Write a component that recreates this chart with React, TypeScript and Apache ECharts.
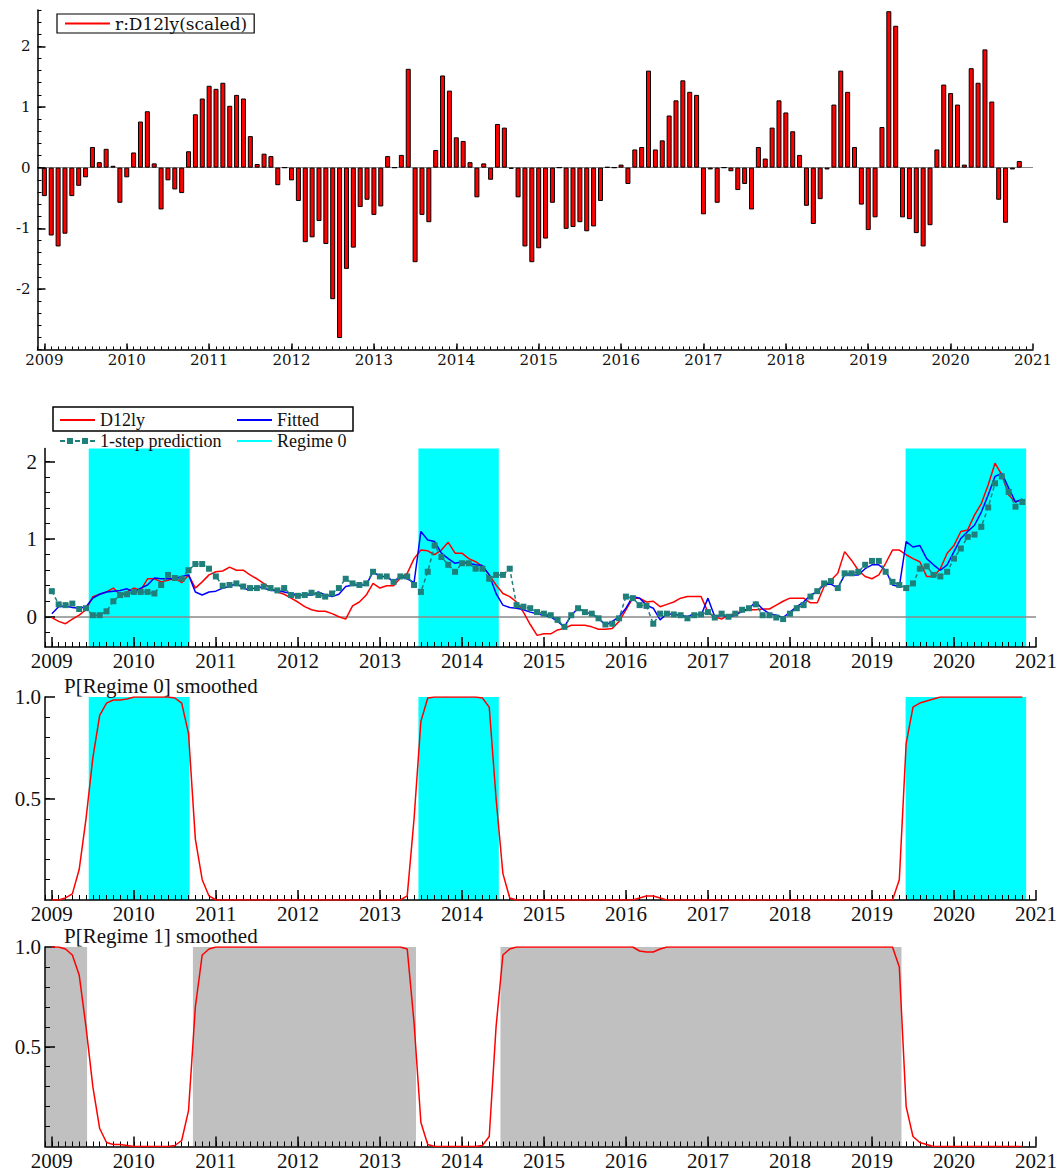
import { useEffect, useRef } from "react";
import * as echarts from "echarts";

// Monthly sample: 2009M1 .. 2020M11 (143 observations)
const FIRST_YEAR = 2009;
const YEARS = [2009, 2010, 2011, 2012, 2013, 2014, 2015, 2016, 2017, 2018, 2019, 2020, 2021];

// scaled residuals r:D12ly
const residuals = [
  -0.47, -1.12, -1.30, -1.09, -0.47, -0.30, -0.16, 0.34, 0.09, 0.31, 0.03, -0.58,
  -0.16, 0.25, 0.76, 0.93, 0.07, -0.69, -0.21, -0.36, -0.42, 0.27, 0.88, 1.14,
  1.35, 1.30, 1.40, 1.02, 1.20, 1.14, 0.52, 0.06, 0.23, 0.19, -0.29, 0.00,
  -0.21, -0.55, -1.23, -1.15, -0.88, -1.26, -2.17, -2.81, -1.67, -1.32, -0.65, -0.53,
  -0.78, -0.64, 0.19, 0.00, 0.21, 1.63, -1.56, -0.78, -0.90, 0.29, 1.52, 1.27,
  0.50, 0.44, 0.09, -0.49, 0.07, -0.20, 0.72, 0.66, -0.02, -0.49, -1.30, -1.56,
  -1.33, -1.17, -0.58, 0.00, -1.01, -0.98, -0.90, -1.05, -0.97, -0.55, 0.01, 0.00,
  0.05, -0.27, 0.30, 0.34, 1.60, 0.30, 0.45, 0.86, 1.11, 1.44, 1.25, 1.20,
  -0.77, -0.03, -0.58, 0.00, -0.06, -0.37, -0.27, -0.69, 0.34, 0.15, 0.66, 1.11,
  0.91, 0.60, 0.21, -0.63, -0.93, -0.52, -0.03, 1.04, 1.60, 1.25, 0.34, -0.61,
  -1.03, -0.82, 0.67, 2.58, 2.34, -0.82, -0.85, -1.08, -1.30, -0.95, 0.30, 1.37,
  1.23, 1.04, 0.05, 1.64, 1.40, 1.95, 1.09, -0.53, -0.91, -0.03, 0.11,
];

const d12ly = [
  -0.01, -0.06, -0.09, -0.03, 0.02, 0.09, 0.26, 0.29, 0.32, 0.37, 0.28, 0.32,
  0.37, 0.34, 0.49, 0.49, 0.45, 0.47, 0.50, 0.44, 0.54, 0.37, 0.45, 0.54,
  0.58, 0.59, 0.64, 0.60, 0.60, 0.54, 0.49, 0.43, 0.37, 0.32, 0.29, 0.24,
  0.19, 0.13, 0.09, 0.07, 0.07, 0.04, 0.00, -0.03, 0.14, 0.19, 0.28, 0.43,
  0.37, 0.40, 0.40, 0.50, 0.56, 0.75, 0.86, 0.85, 0.80, 0.86, 0.96, 0.82,
  0.82, 0.75, 0.71, 0.65, 0.54, 0.41, 0.30, 0.26, 0.19, 0.06, -0.10, -0.24,
  -0.22, -0.22, -0.17, -0.15, -0.11, -0.11, -0.11, -0.13, -0.16, -0.16, -0.15, -0.06,
  0.09, 0.24, 0.24, 0.19, 0.20, 0.13, 0.16, 0.19, 0.24, 0.26, 0.26, 0.26,
  0.06, 0.00, -0.03, 0.02, 0.04, 0.07, 0.09, 0.09, 0.10, 0.10, 0.15, 0.20,
  0.24, 0.24, 0.24, 0.18, 0.18, 0.39, 0.47, 0.56, 0.84, 0.73, 0.60, 0.52,
  0.49, 0.54, 0.69, 0.86, 0.86, 0.80, 0.75, 0.71, 0.52, 0.52, 0.62, 0.82,
  0.92, 1.10, 1.12, 1.31, 1.46, 1.70, 1.98, 1.83, 1.57, 1.48, 1.51,
];

const fitted = [
  0.04, 0.13, 0.14, 0.12, 0.11, 0.13, 0.24, 0.29, 0.32, 0.33, 0.34, 0.36,
  0.32, 0.37, 0.41, 0.50, 0.49, 0.49, 0.49, 0.52, 0.54, 0.32, 0.28, 0.32,
  0.33, 0.37, 0.39, 0.43, 0.37, 0.34, 0.39, 0.37, 0.34, 0.34, 0.32, 0.30,
  0.28, 0.28, 0.28, 0.32, 0.28, 0.26, 0.29, 0.39, 0.41, 0.41, 0.41, 0.58,
  0.52, 0.52, 0.45, 0.52, 0.49, 0.44, 1.10, 0.99, 0.97, 0.82, 0.75, 0.69,
  0.71, 0.69, 0.67, 0.66, 0.54, 0.30, 0.15, 0.12, 0.11, 0.09, 0.06, 0.04,
  0.02, 0.00, -0.06, -0.13, 0.02, 0.11, 0.06, 0.04, -0.02, -0.11, -0.06, 0.00,
  0.11, 0.26, 0.24, 0.15, 0.11, -0.04, 0.04, 0.03, 0.02, 0.00, 0.04, 0.02,
  0.24, 0.00, 0.02, 0.00, 0.02, 0.07, 0.11, 0.19, 0.10, 0.04, 0.02, -0.01,
  0.06, 0.13, 0.19, 0.28, 0.32, 0.42, 0.42, 0.37, 0.54, 0.54, 0.54, 0.62,
  0.67, 0.67, 0.60, 0.41, 0.39, 0.97, 0.90, 0.92, 0.75, 0.67, 0.60, 0.67,
  0.84, 1.01, 1.10, 1.18, 1.35, 1.57, 1.81, 1.85, 1.66, 1.48, 1.52,
];

const oneStepPrediction = [
  0.33, 0.16, 0.15, 0.17, 0.10, 0.11, 0.02, 0.02, 0.07, 0.20, 0.28, 0.29,
  0.32, 0.32, 0.32, 0.30, 0.41, 0.54, 0.50, 0.49, 0.60, 0.68, 0.68, 0.62,
  0.52, 0.40, 0.41, 0.43, 0.39, 0.37, 0.37, 0.39, 0.37, 0.34, 0.37, 0.28,
  0.27, 0.28, 0.31, 0.28, 0.26, 0.30, 0.37, 0.49, 0.43, 0.41, 0.43, 0.58,
  0.52, 0.52, 0.45, 0.52, 0.52, 0.41, 0.32, 0.58, 0.92, 0.77, 0.67, 0.58,
  0.69, 0.69, 0.62, 0.62, 0.49, 0.54, 0.54, 0.62, 0.15, 0.13, 0.11, 0.06,
  0.04, 0.02, -0.04, -0.13, 0.02, 0.11, 0.06, 0.04, -0.02, -0.10, -0.09, -0.02,
  0.26, 0.24, 0.15, 0.14, -0.09, 0.04, 0.04, 0.03, 0.02, -0.02, 0.02, 0.03,
  0.06, -0.01, 0.04, 0.00, 0.04, 0.09, 0.11, 0.16, 0.02, 0.02, -0.01, -0.03,
  0.04, 0.11, 0.15, 0.26, 0.33, 0.43, 0.46, 0.37, 0.56, 0.56, 0.58, 0.67,
  0.72, 0.72, 0.58, 0.45, 0.41, 0.37, 0.43, 0.62, 0.65, 0.54, 0.52, 0.58,
  0.75, 0.88, 1.03, 1.06, 1.16, 1.41, 1.72, 1.81, 1.61, 1.42, 1.48,
];

const pRegime0 = [
  0, 0, 0.01, 0.03, 0.15, 0.40, 0.70, 0.91, 0.97, 0.985, 0.985, 0.99,
  1, 1, 1, 1, 1, 1, 0.995, 0.97, 0.82, 0.30, 0.10, 0.02,
  0, 0, 0, 0, 0, 0, 0, 0, 0, 0, 0, 0,
  0, 0, 0, 0, 0, 0, 0, 0, 0, 0, 0, 0,
  0, 0, 0, 0, 0.02, 0.40, 0.88, 0.995, 1, 1, 1, 1,
  1, 1, 1, 0.995, 0.95, 0.50, 0.13, 0.01, 0, 0, 0, 0,
  0, 0, 0, 0, 0, 0, 0, 0, 0, 0, 0, 0,
  0, 0, 0.01, 0.02, 0.02, 0.01, 0, 0, 0, 0, 0, 0,
  0, 0, 0, 0, 0, 0, 0, 0, 0, 0, 0, 0,
  0, 0, 0, 0, 0, 0, 0, 0, 0, 0, 0, 0,
  0, 0, 0, 0, 0.10, 0.77, 0.95, 0.97, 0.98, 0.99, 1, 1,
  1, 1, 1, 1, 1, 1, 1, 1, 1, 1, 1,
];

const pRegime1 = [
  1, 1, 0.99, 0.96, 0.86, 0.60, 0.30, 0.09, 0.02, 0.01, 0.01, 0.005,
  0, 0, 0, 0, 0, 0, 0.005, 0.03, 0.18, 0.70, 0.96, 0.99,
  1, 1, 1, 1, 1, 1, 1, 1, 1, 1, 1, 1,
  1, 1, 1, 1, 1, 1, 1, 1, 1, 1, 1, 1,
  1, 1, 1, 1, 0.99, 0.62, 0.12, 0.01, 0, 0, 0, 0,
  0, 0, 0, 0.005, 0.05, 0.60, 0.96, 0.99, 1, 1, 1, 1,
  1, 1, 1, 1, 1, 1, 1, 1, 1, 1, 1, 1,
  1, 1, 0.98, 0.975, 0.975, 0.99, 1, 1, 1, 1, 1, 1,
  1, 1, 1, 1, 1, 1, 1, 1, 1, 1, 1, 1,
  1, 1, 1, 1, 1, 1, 1, 1, 1, 1, 1, 1,
  1, 1, 1, 1, 0.90, 0.20, 0.05, 0.02, 0.01, 0, 0, 0,
  0, 0, 0, 0, 0, 0, 0, 0, 0, 0, 0,
];

// classified regime periods (decimal years)
const regime0Periods = [
  [2009.45, 2010.68],
  [2013.47, 2014.45],
  [2019.41, 2020.88],
];
const regime1Periods = [
  [2008.92, 2009.43],
  [2010.72, 2013.44],
  [2014.47, 2019.36],
];

const residLabels = [-2, -1, 0, 1, 2];
const levelLabels = [0, 1, 2];
const probLabels = [0.5, 1.0];

const X_MIN = FIRST_YEAR - 1 / 12;
const X_MAX = 2021;

const steps = (from: number, to: number, step: number) =>
  Array.from({ length: Math.round((to - from) / step) + 1 }, (_, k) => +(from + k * step).toFixed(4));

const monthTicks = Array.from({ length: 145 }, (_, k) => X_MIN + k / 12);
const asPoints = (vals: number[]) => vals.map((v, i) => [FIRST_YEAR + i / 12, v]);

const SERIF = "Liberation Serif, Tinos, DejaVu Serif, serif";
const WIDE_SERIF = "DejaVu Serif, serif";
const INK = "#111111";

// dash - square - dash - square key for the 1-step prediction entry (35 x 14 box)
const DASH_SQUARE_ICON =
  "path://M0,0h0.01v0.01h-0.01z M0,6h5v2h-5z M7,4h6v6h-6z M15,6h5v2h-5z M22,4h6v6h-6z M30,6h5v2h-5z M34.99,13.99h0.01v0.01h-0.01z";

type AxisLook = { font: string; size: number; margin: number; major: number; minor: number; lineHeight?: number };

function xPair(grid: number, look: AxisLook) {
  return [
    {
      type: "value", gridIndex: grid, position: "bottom", min: X_MIN, max: X_MAX, z: 3,
      axisLine: { show: true, onZero: false, lineStyle: { color: "#000", width: 1.5 } },
      axisTick: { show: true, inside: true, length: look.major, customValues: YEARS, lineStyle: { color: "#000", width: 1.5 } },
      axisLabel: {
        customValues: YEARS, margin: look.margin, color: INK, fontFamily: look.font, fontSize: look.size,
        lineHeight: look.lineHeight, formatter: (v: number) => String(Math.round(v)),
      },
      splitLine: { show: false },
    },
    {
      type: "value", gridIndex: grid, position: "bottom", min: X_MIN, max: X_MAX, z: 3,
      axisLine: { show: false, onZero: false },
      axisTick: { show: true, inside: true, length: look.minor, customValues: monthTicks, lineStyle: { color: "#000", width: 1 } },
      axisLabel: { show: false },
      splitLine: { show: false },
    },
  ];
}

function yPair(
  grid: number, min: number, max: number, labels: number[], minor: number[],
  look: AxisLook, fmt: (v: number) => string,
) {
  return [
    {
      type: "value", gridIndex: grid, position: "left", min, max, z: 3,
      axisLine: { show: true, onZero: false, lineStyle: { color: "#000", width: 1.5 } },
      axisTick: { show: true, inside: true, length: look.major, customValues: labels, lineStyle: { color: "#000", width: 1.5 } },
      axisLabel: { customValues: labels, margin: look.margin, color: INK, fontFamily: look.font, fontSize: look.size, formatter: fmt },
      splitLine: { show: false },
    },
    {
      type: "value", gridIndex: grid, position: "left", min, max, z: 3,
      axisLine: { show: false, onZero: false },
      axisTick: { show: true, inside: true, length: look.minor, customValues: minor, lineStyle: { color: "#000", width: 1 } },
      axisLabel: { show: false },
      splitLine: { show: false },
    },
  ];
}

const zeroLine = (width: number) => ({
  silent: true, symbol: "none", z: 1,
  label: { show: false },
  lineStyle: { color: "#8a8a8a", width, type: "solid" },
  data: [{ yAxis: 0 }],
});

const periodsArea = (periods: number[][], color: string) => ({
  silent: true,
  itemStyle: { color, opacity: 1 },
  data: periods.map(([a, b]) => [{ xAxis: a }, { xAxis: b }]),
});

const legendText = { fontFamily: SERIF, fontSize: 18, color: INK, lineHeight: 20 };
// one legend entry per component so each sits exactly where it belongs
const lineLegend = (name: string, color: string, left: number, top: number) => ({
  data: [{ name, icon: "rect", itemStyle: { color, borderWidth: 0 } }],
  left, top, padding: 0, itemWidth: 35, itemHeight: 2,
  selectedMode: false, textStyle: legendText,
});
const markerLegend = (name: string, color: string, left: number, top: number) => ({
  data: [{ name, icon: DASH_SQUARE_ICON, itemStyle: { color, borderWidth: 0 } }],
  left, top, padding: 0, itemWidth: 35, itemHeight: 14,
  selectedMode: false, textStyle: legendText,
});

export default function App() {
  const ref = useRef<HTMLDivElement>(null);

  useEffect(() => {
    if (!ref.current) return;
    const chart = echarts.init(ref.current, undefined, { renderer: "svg" });

    const topLook: AxisLook = { font: WIDE_SERIF, size: 15, margin: 3, major: 6, minor: 3 };
    const levelXLook: AxisLook = { font: SERIF, size: 21, margin: 4, major: 10, minor: 5, lineHeight: 20 };
    const levelYLook: AxisLook = { font: SERIF, size: 21, margin: 8, major: 10, minor: 5 };
    const probYLook: AxisLook = { font: SERIF, size: 21, margin: 4, major: 10, minor: 5 };

    const grids = [
      { left: 37.5, top: 10, width: 995.5, height: 339.5 },
      { left: 45, top: 448.5, width: 991.5, height: 198.5 },
      { left: 45, top: 697, width: 991.5, height: 203 },
      { left: 45, top: 947, width: 991.5, height: 201 },
    ];

    const titleStyle = { fontFamily: SERIF, fontSize: 21, fontWeight: "normal", color: INK, lineHeight: 22 };

    const option = {
      animation: false,
      backgroundColor: "#ffffff",
      grid: grids.map((g) => ({ ...g, containLabel: false })),
      xAxis: [
        ...xPair(0, topLook),
        ...xPair(1, levelXLook),
        ...xPair(2, levelXLook),
        ...xPair(3, levelXLook),
      ],
      yAxis: [
        ...yPair(0, -3, 2.6, residLabels, steps(-3, 2.6, 0.2), { ...topLook, margin: 7, major: 8, minor: 4 }, (v) => String(v)),
        ...yPair(1, -0.39, 2.17, levelLabels, steps(-0.2, 2.0, 0.2), levelYLook, (v) => String(v)),
        ...yPair(2, 0, 1, probLabels, steps(0.1, 0.9, 0.1), probYLook, (v) => v.toFixed(1)),
        ...yPair(3, 0, 1, probLabels, steps(0.1, 0.9, 0.1), probYLook, (v) => v.toFixed(1)),
      ],
      title: [
        { text: "P[Regime 0] smoothed", left: 64, top: 675, padding: 0, textStyle: titleStyle },
        { text: "P[Regime 1] smoothed", left: 64, top: 925, padding: 0, textStyle: titleStyle },
      ],
      legend: [
        {
          data: [{ name: "r:D12ly(scaled)", icon: "rect", itemStyle: { color: "#ff0000", borderWidth: 0 } }],
          left: 57, top: 14, padding: [1, 7, 1, 8], itemWidth: 45, itemHeight: 2,
          borderColor: "#000", borderWidth: 1.2, selectedMode: false,
          textStyle: { fontFamily: WIDE_SERIF, fontSize: 17, color: INK, lineHeight: 16 },
        },
        lineLegend("D12ly", "#ff0000", 60, 410),
        lineLegend("Fitted", "#0000ff", 237, 410),
        markerLegend("1-step prediction", "#1f7f7a", 60, 431),
        lineLegend("Regime 0", "#00ffff", 237, 431),
      ],
      graphic: [
        {
          type: "rect", silent: true,
          shape: { x: 53, y: 407, width: 300, height: 24 },
          style: { fill: "none", stroke: "#000", lineWidth: 1.5 },
        },
      ],
      series: [
        {
          name: "r:D12ly(scaled)", type: "bar", xAxisIndex: 0, yAxisIndex: 0,
          data: asPoints(residuals), barWidth: 5,
          itemStyle: { color: "#ff0000", borderColor: "#000", borderWidth: 1 },
          markLine: zeroLine(1),
        },
        {
          name: "Regime 0", type: "line", xAxisIndex: 2, yAxisIndex: 2, data: [],
          symbol: "none", color: "#00ffff", lineStyle: { color: "#00ffff", width: 2 },
          markArea: periodsArea(regime0Periods, "#00ffff"),
          markLine: zeroLine(1.5),
        },
        {
          name: "D12ly", type: "line", xAxisIndex: 2, yAxisIndex: 2, data: asPoints(d12ly),
          symbol: "none", color: "#ff0000", lineStyle: { color: "#ff0000", width: 1.5 },
        },
        {
          name: "Fitted", type: "line", xAxisIndex: 2, yAxisIndex: 2, data: asPoints(fitted),
          symbol: "none", color: "#0000ff", lineStyle: { color: "#0000ff", width: 1.5 },
        },
        {
          name: "1-step prediction", type: "line", xAxisIndex: 2, yAxisIndex: 2, data: asPoints(oneStepPrediction),
          symbol: "rect", symbolSize: 6, showSymbol: true, color: "#1f7f7a",
          itemStyle: { color: "#1f7f7a" },
          lineStyle: { color: "#1f7f7a", width: 1.5, type: [4, 3] },
        },
        {
          name: "P[Regime 0] smoothed", type: "line", xAxisIndex: 4, yAxisIndex: 4, data: asPoints(pRegime0),
          symbol: "none", color: "#ff0000", lineStyle: { color: "#ff0000", width: 1.5 },
          markArea: periodsArea(regime0Periods, "#00ffff"),
        },
        {
          name: "P[Regime 1] smoothed", type: "line", xAxisIndex: 6, yAxisIndex: 6, data: asPoints(pRegime1),
          symbol: "none", color: "#ff0000", lineStyle: { color: "#ff0000", width: 1.5 },
          markArea: periodsArea(regime1Periods, "#c0c0c0"),
        },
      ],
    };

    chart.setOption(option as any);
    return () => chart.dispose();
  }, []);

  return (
    <div
      ref={ref}
      style={{ position: "absolute", left: 0, top: 0, width: 1060, height: 1171, background: "#fff" }}
    />
  );
}
